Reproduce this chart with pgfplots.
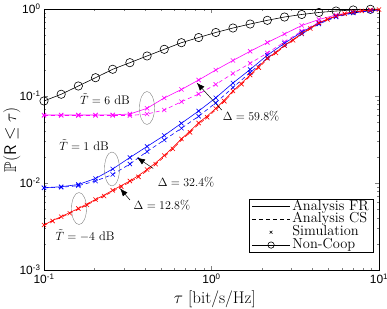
\documentclass[border=0pt]{standalone}
\usepackage{fontspec}
\usepackage{amssymb}
\usepackage{pgfplots}
\usepackage{pgfplotstable}
\pgfplotsset{compat=1.18}
\usetikzlibrary{arrows.meta}
\newfontfamily\ticksf{Liberation Sans}
\newcommand\lbl{\fontsize{12.5}{15}\selectfont}
\newcommand\leglbl{\fontsize{14.5}{16}\selectfont}
\newcommand\axlbl{\fontsize{17}{19}\selectfont}
\definecolor{mag}{RGB}{255,0,255}
\definecolor{rd}{RGB}{255,0,0}
\definecolor{bl}{RGB}{0,0,255}

\pgfplotstableread{
t fr
0.1 0.0877
0.12663 0.1047
0.16037 0.1303
0.20309 0.1623
0.25719 0.2028
0.32570 0.2415
0.41246 0.2884
0.52233 0.3441
0.66147 0.4100
0.83768 0.4699
1.06082 0.537
1.34340 0.6047
1.70125 0.672
2.15443 0.741
2.72833 0.809
3.45511 0.865
4.37548 0.912
5.54102 0.948
7.01704 0.974
8.88624 0.992
}\noncoop

\pgfplotstableread{
t fr cs
0.1 0.0605 0.0597
0.12663 0.0605 0.0597
0.16037 0.0605 0.0597
0.20309 0.0605 0.0597
0.25719 0.0607 0.0597
0.32570 0.0621 0.0597
0.41246 0.0722 0.0621
0.52233 0.0950 0.0690
0.66147 0.1188 0.0860
0.83768 0.1527 0.1054
1.06082 0.199 0.136
1.34340 0.256 0.1815
1.70125 0.3265 0.2376
2.15443 0.412 0.312
2.72833 0.516 0.418
3.45511 0.646 0.558
4.37548 0.757 0.700
5.54102 0.853 0.820
7.01704 0.924 0.912
8.88624 0.962 0.956
}\magenta

\pgfplotstableread{
t fr cs
0.1 0.00883 0.00877
0.12663 0.00906 0.00893
0.16037 0.00961 0.00931
0.20309 0.01127 0.01054
0.25719 0.01449 0.01253
0.32570 0.01963 0.01653
0.41246 0.0263 0.0230
0.52233 0.0352 0.0312
0.66147 0.0486 0.0426
0.83768 0.0672 0.0585
1.06082 0.0953 0.0835
1.34340 0.141 0.1253
1.70125 0.2016 0.1862
2.15443 0.2944 0.2735
2.72833 0.4034 0.3805
3.45511 0.544 0.516
4.37548 0.690 0.673
5.54102 0.824 0.809
7.01704 0.907 0.899
8.88624 0.956 0.953
}\blue

\pgfplotstableread{
t fr cs
0.1 0.00329 0.00325
0.11253 0.00371 0.00366
0.12663 0.00410 0.00403
0.14251 0.00458 0.00449
0.16037 0.00509 0.00498
0.18047 0.00574 0.00560
0.20309 0.00646 0.00629
0.22855 0.00728 0.00708
0.25719 0.00824 0.00800
0.28943 0.00936 0.00907
0.32570 0.01054 0.01020
0.36652 0.01219 0.01178
0.41246 0.01429 0.01380
0.46416 0.01706 0.01646
0.52233 0.0207 0.01996
0.58780 0.0256 0.0247
0.66147 0.0321 0.0310
0.74438 0.0396 0.0382
0.83768 0.0490 0.0473
0.94267 0.0589 0.0569
1.06082 0.0718 0.0694
1.19378 0.0899 0.0870
1.34340 0.1141 0.1105
1.51178 0.141 0.1367
1.70125 0.1743 0.1692
1.91448 0.2183 0.2122
2.15443 0.271 0.2638
2.42446 0.3205 0.3125
2.72833 0.380 0.3715
3.07029 0.446 0.437
3.45511 0.523 0.514
3.88816 0.605 0.596
4.37548 0.690 0.682
4.92388 0.767 0.760
5.54102 0.831 0.825
6.23551 0.887 0.882
7.01704 0.924 0.920
7.89652 0.953 0.950
8.88624 0.974 0.972
10 0.987 0.986
}\red

\pgfplotstableread{
t cs
0.11253 0.00366
0.14251 0.00449
0.18047 0.00560
0.22855 0.00708
0.28943 0.00907
0.36652 0.01178
0.46416 0.01646
0.58780 0.0247
0.74438 0.0382
0.94267 0.0569
1.19378 0.0870
1.51178 0.1367
1.91448 0.2122
2.42446 0.3125
3.07029 0.437
3.88816 0.596
4.92388 0.760
6.23551 0.882
7.89652 0.950
10 0.986
}\redodd

\begin{document}
\begin{tikzpicture}
\path[use as bounding box] (-44bp,-39bp) rectangle (343bp,270bp);
\begin{axis}[
  at={(0,0)}, anchor=south west,
  scale only axis, width=335bp, height=261bp,
  xmode=log, ymode=log,
  xmin=0.1, xmax=10, ymin=1e-3, ymax=1,
  xtick={0.1,1,10},
  xticklabels={10\textsuperscript{-1},10\textsuperscript{0},10\textsuperscript{1}},
  ytick={0.001,0.01,0.1,1},
  yticklabels={10\textsuperscript{-3},10\textsuperscript{-2},10\textsuperscript{-1},10\textsuperscript{0}},
  minor xtick={0.2,0.3,0.4,0.5,0.6,0.7,0.8,0.9,2,3,4,5,6,7,8,9},
  minor ytick={0.002,0.003,0.004,0.005,0.006,0.007,0.008,0.009,0.02,0.03,0.04,0.05,0.06,0.07,0.08,0.09,0.2,0.3,0.4,0.5,0.6,0.7,0.8,0.9},
  tick align=inside, major tick length=4bp, minor tick length=2.2bp,
  tick label style={font=\ticksf\fontsize{12}{14}\selectfont},
  axis line style={line width=0.5pt},
  xlabel={$\tau$ [bit/s/Hz]},
  ylabel={$\mathbb{P}(\mathsf{R}\leq\tau)$},
  every axis x label/.style={at={(axis description cs:0.51,-0.112)}, anchor=center, font=\axlbl},
  every axis y label/.style={at={(axis description cs:-0.096,0.5)}, rotate=90, anchor=center, font=\axlbl},
  legend style={at={(axis description cs:0.985,0.272)}, anchor=north east, font=\leglbl,
    draw=black, line width=0.5pt, inner xsep=3pt, inner ysep=1bp, row sep=0bp, fill=white,
    nodes={inner ysep=0bp, text height=9.9bp, text depth=2.9bp}},
  legend cell align=left,
  legend image code/.code={\draw[mark repeat=2,mark phase=2,#1] plot coordinates {(0bp,0bp) (19bp,0bp) (38bp,0bp)};},
]
% Non-coop
\addplot[black, line width=0.6pt, forget plot] table[x=t,y=fr] {\noncoop};
\addplot[black, line width=0.6pt, forget plot] coordinates {(8.88624,0.992) (10,0.997)};
\addplot[black, only marks, mark=o, mark size=4.2pt, mark options={line width=0.6pt}, forget plot] table[x=t,y=fr] {\noncoop};
% magenta
\addplot[mag, line width=0.6pt, forget plot] table[x=t,y=fr] {\magenta};
\addplot[mag, line width=0.6pt, forget plot] coordinates {(8.88624,0.962) (10,0.974)};
\addplot[mag, line width=0.6pt, dash pattern=on 4bp off 3bp, forget plot] table[x=t,y=cs] {\magenta};
\addplot[mag, line width=0.6pt, dash pattern=on 4bp off 3bp, forget plot] coordinates {(8.88624,0.956) (10,0.969)};
\addplot[mag, only marks, mark=x, mark size=3pt, mark options={line width=0.6pt}, forget plot] table[x=t,y=fr] {\magenta};
\addplot[mag, only marks, mark=x, mark size=3pt, mark options={line width=0.6pt}, forget plot] table[x=t,y=cs] {\magenta};
% blue
\addplot[bl, line width=0.6pt, forget plot] table[x=t,y=fr] {\blue};
\addplot[bl, line width=0.6pt, forget plot] coordinates {(8.88624,0.956) (10,0.971)};
\addplot[bl, line width=0.6pt, dash pattern=on 4bp off 3bp, forget plot] table[x=t,y=cs] {\blue};
\addplot[bl, line width=0.6pt, dash pattern=on 4bp off 3bp, forget plot] coordinates {(8.88624,0.953) (10,0.969)};
\addplot[bl, only marks, mark=x, mark size=3pt, mark options={line width=0.6pt}, forget plot] table[x=t,y=fr] {\blue};
\addplot[bl, only marks, mark=x, mark size=3pt, mark options={line width=0.6pt}, forget plot] table[x=t,y=cs] {\blue};
% red
\addplot[rd, line width=0.6pt, forget plot] table[x=t,y=fr] {\red};
\addplot[rd, line width=0.6pt, dash pattern=on 4bp off 3bp, forget plot] table[x=t,y=cs] {\red};
\addplot[rd, only marks, mark=x, mark size=3pt, mark options={line width=0.6pt}, each nth point=2, forget plot] table[x=t,y=fr] {\red};
\addplot[rd, only marks, mark=x, mark size=3pt, mark options={line width=0.6pt}, forget plot] table[x=t,y=cs] {\redodd};
% legend
\addlegendimage{black, line width=0.6pt}
\addlegendentry{Analysis FR}
\addlegendimage{black, line width=0.6pt, dash pattern=on 4bp off 3bp}
\addlegendentry{Analysis CS}
\addlegendimage{black, only marks, mark=x, mark size=2pt, mark options={line width=0.5pt}}
\addlegendentry{Simulation}
\addlegendimage{black, line width=0.6pt, mark=o, mark size=3.2pt}
\addlegendentry{Non-Coop}
% ellipses
\draw[gray, line width=0.4pt] (axis cs:0.412,0.0728) ellipse [x radius=7.5bp, y radius=16.5bp];
\draw[gray, line width=0.4pt] (axis cs:0.2546,0.01449) ellipse [x radius=7.5bp, y radius=17bp];
\draw[gray, line width=0.4pt] (axis cs:0.1618,0.00509) ellipse [x radius=7.5bp, y radius=16bp];
% labels
\node[font=\lbl] at (axis cs:0.231,0.0924) {$\tilde{T}=6$ dB};
\node[font=\lbl] at (axis cs:0.1734,0.0273) {$\tilde{T}=1$ dB};
\node[font=\lbl] at (axis cs:0.1757,0.00246) {$\tilde{T}=-4$ dB};
\node[font=\lbl] at (axis cs:1.722,0.0589) {$\Delta=59.8\%$};
\node[font=\lbl] at (axis cs:0.705,0.01026) {$\Delta=32.4\%$};
\node[font=\lbl] at (axis cs:0.506,0.00559) {$\Delta=12.8\%$};
% arrows
\draw[-{Latex[length=8bp,width=6bp]}, line width=0.5pt] (axis cs:1.151,0.0690) -- (axis cs:0.816,0.1422);
\draw[-{Latex[length=8bp,width=6bp]}, line width=0.5pt] (axis cs:0.449,0.01469) -- (axis cs:0.359,0.01964);
\draw[-{Latex[length=8bp,width=6bp]}, line width=0.5pt] (axis cs:0.326,0.00638) -- (axis cs:0.2842,0.00869);
\end{axis}
\end{tikzpicture}
\end{document}
